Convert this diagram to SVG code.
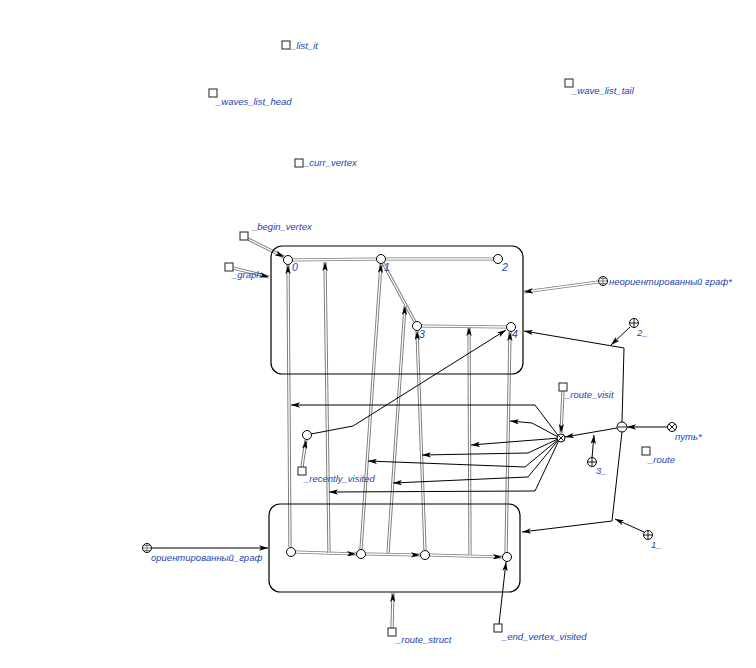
<svg xmlns="http://www.w3.org/2000/svg" width="756" height="668" viewBox="0 0 756 668">
<style>
.lb{font-family:"Liberation Sans",Arial,sans-serif;font-style:italic;font-size:9.5px;fill:#1a45b0}
.vl{font-family:"Liberation Sans",Arial,sans-serif;font-style:italic;font-size:10.5px;fill:#1a45b0}
.sq{fill:#fff;stroke:#333;stroke-width:1.1}
.v{fill:#fff;stroke:#000;stroke-width:1}
.box{fill:none;stroke:#000;stroke-width:1.2}
.o{fill:none;stroke:#7a7a7a;stroke-width:3.2}
.i{fill:none;stroke:#fff;stroke-width:1.3}
.ia{fill:none;stroke:#fff;stroke-width:1.3;marker-end:url(#ah)}
.b{fill:none;stroke:#000;stroke-width:1;marker-end:url(#ah)}
.ln{stroke:#000;stroke-width:0.9;fill:none}
.gl{stroke:#333;stroke-width:0.6;fill:none}
</style>
<defs>
<marker id="ah" viewBox="0 0 10 6" refX="10" refY="3" markerWidth="9" markerHeight="5.4" markerUnits="userSpaceOnUse" orient="auto">
<path d="M0,0 L10,3 L0,6 L2.5,3 z" fill="#000"/>
</marker>
</defs>
<rect width="756" height="668" fill="#fff"/>

<g id="connectors">
<path class="o" d="M292,260 L377,259"/><path class="i" d="M292,260 L377,259"/>
<path class="o" d="M386,259 L494,259"/><path class="i" d="M386,259 L494,259"/>
<path class="o" d="M383,263 L415,322"/><path class="i" d="M383,263 L415,322"/>
<path class="o" d="M421,326 L506,327"/><path class="i" d="M421,326 L506,327"/>
<path class="o" d="M295,552 L356,554"/><path class="ia" d="M295,552 L356,554"/>
<path class="o" d="M366,554 L420,555"/><path class="ia" d="M366,554 L420,555"/>
<path class="o" d="M430,555 L502,557"/><path class="ia" d="M430,555 L502,557"/>
<path class="o" d="M290,547 L288,265"/><path class="ia" d="M290,547 L288,265"/>
<path class="o" d="M329,553 L325,262"/><path class="ia" d="M329,553 L325,262"/>
<path class="o" d="M361,549 L381,264"/><path class="ia" d="M361,549 L381,264"/>
<path class="o" d="M388,553 L405,306"/><path class="ia" d="M388,553 L405,306"/>
<path class="o" d="M425,550 L417,331"/><path class="ia" d="M425,550 L417,331"/>
<path class="o" d="M470,555 L469,327"/><path class="ia" d="M470,555 L469,327"/>
<path class="o" d="M506,553 L510,332"/><path class="ia" d="M506,553 L510,332"/>
<path class="b" d="M560,438 L535,405 L291,405"/>
<path class="b" d="M560,438 L532,423 L510,421"/>
<path class="b" d="M560,438 L471,445"/>
<path class="b" d="M560,438 L528,453 L422,455"/>
<path class="b" d="M560,438 L525,467 L368,461"/>
<path class="b" d="M560,438 L528,477 L393,483"/>
<path class="b" d="M560,438 L535,491 L329,492"/>
<path class="o" d="M302,467 L306,440"/><path class="ia" d="M302,467 L306,440"/>
<path class="b" d="M311,434 L353,426 L506,330"/>
<path class="o" d="M563,391 L561,433"/><path class="ia" d="M563,391 L561,433"/>
<path class="b" d="M617,428 L565,437"/>
<path class="b" d="M592,458 L594,435"/>
<path class="b" d="M667,427 L627,427"/>
<path class="b" d="M622,422 L624,348 L524,331"/>
<path class="b" d="M622,432 L612,521 L522,532"/>
<path class="b" d="M630,327 L611,345"/>
<path class="b" d="M644,532 L615,519"/>
<path class="o" d="M248,239 L284,257"/><path class="ia" d="M248,239 L284,257"/>
<path class="o" d="M233,268 L269,277"/><path class="ia" d="M233,268 L269,277"/>
<path class="o" d="M598,282 L524,292"/><path class="ia" d="M598,282 L524,292"/>
<path class="b" d="M152,548 L268,548"/>
<path class="o" d="M392,628 L393,593"/><path class="ia" d="M392,628 L393,593"/>
<path class="b" d="M499,624 L506,562"/>
</g>

<g id="upper_graph"><rect class="box" x="271" y="246" width="252" height="128" rx="11"/></g>
<g id="lower_graph"><rect class="box" x="269" y="504" width="251" height="88" rx="11"/></g>

<g id="v0"><circle class="v" cx="288" cy="260" r="4.5"/><text class="vl" x="292" y="271">0</text></g>
<g id="v1"><circle class="v" cx="381" cy="259" r="4.5"/><text class="vl" x="384" y="271">1</text></g>
<g id="v2"><circle class="v" cx="498" cy="259" r="4.5"/><text class="vl" x="502" y="271">2</text></g>
<g id="v3"><circle class="v" cx="417" cy="326" r="4.5"/><text class="vl" x="419" y="338">3</text></g>
<g id="v4"><circle class="v" cx="511" cy="327" r="4.5"/><text class="vl" x="512" y="338">4</text></g>

<g id="ra"><circle class="v" cx="291" cy="552" r="4.5"/></g>
<g id="rb"><circle class="v" cx="361" cy="554" r="4.5"/></g>
<g id="rc"><circle class="v" cx="425" cy="555" r="4.5"/></g>
<g id="rd"><circle class="v" cx="507" cy="557" r="4.5"/></g>

<g id="list_it"><rect class="sq" x="282" y="41" width="8" height="8"/><text class="lb" x="291" y="49">_list_it</text></g>
<g id="waves_list_head"><rect class="sq" x="209" y="89" width="8" height="8"/><text class="lb" x="216" y="105">_waves_list_head</text></g>
<g id="wave_list_tail"><rect class="sq" x="565" y="79" width="8" height="8"/><text class="lb" x="572" y="94">_wave_list_tail</text></g>
<g id="curr_vertex"><rect class="sq" x="295" y="159" width="8" height="8"/><text class="lb" x="304" y="166">_curr_vertex</text></g>
<g id="begin_vertex"><rect class="sq" x="240" y="232" width="8" height="8"/><text class="lb" x="252" y="230">_begin_vertex</text></g>
<g id="graph"><rect class="sq" x="225" y="263" width="8" height="8"/><text class="lb" x="232" y="278">_graph</text></g>

<g id="undirected_graph">
<circle class="v" cx="603" cy="281" r="4.5"/>
<path class="gl" d="M603,276.5 V285.5 M598.5,281 H607.5 M599.5,278.5 H606.5 M599.5,283.5 H606.5"/>
<text class="lb" x="609" y="285">неориентированный граф*</text>
</g>
<g id="directed_graph">
<circle class="v" cx="147" cy="548" r="4.5"/>
<path class="gl" d="M147,543.5 V552.5 M142.5,548 H151.5 M143.5,545.5 H150.5 M143.5,550.5 H150.5"/>
<text class="lb" x="151" y="561">ориентированный_граф</text>
</g>

<g id="recently_visited">
<circle class="v" cx="307" cy="435" r="4.5"/>
<rect class="sq" x="298" y="467" width="8" height="8"/>
<text class="lb" x="304" y="482">_recently_visited</text>
</g>

<g id="route_visit"><rect class="sq" x="559" y="383" width="8" height="8"/><text class="lb" x="565" y="398">_route_visit</text></g>
<g id="route_node">
<circle class="v" cx="561" cy="438" r="4"/>
<path class="ln" d="M558.5,435.5 L563.5,440.5 M563.5,435.5 L558.5,440.5"/>
</g>
<g id="minus_node">
<circle class="v" cx="622" cy="427" r="5"/>
<path class="ln" d="M618,427 H626"/>
</g>
<g id="path_rel">
<circle class="v" cx="672" cy="427" r="4.5"/>
<path class="ln" d="M669,424 L675,430 M675,424 L669,430"/>
<text class="lb" x="675" y="440">путь*</text>
</g>
<g id="route"><rect class="sq" x="642" y="447" width="8" height="8"/><text class="lb" x="648" y="463">_route</text></g>

<g id="attr1">
<circle class="v" cx="648" cy="535" r="4.5"/>
<path class="ln" d="M648,531 V539 M644,535 H652"/>
<text class="lb" x="651" y="548">1_</text>
</g>
<g id="attr2">
<circle class="v" cx="634" cy="323" r="4.5"/>
<path class="ln" d="M634,319 V327 M630,323 H638"/>
<text class="lb" x="637" y="336">2_</text>
</g>
<g id="attr3">
<circle class="v" cx="592" cy="462" r="4.5"/>
<path class="ln" d="M592,458 V466 M588,462 H596"/>
<text class="lb" x="596" y="474">3_</text>
</g>

<g id="route_struct"><rect class="sq" x="388" y="628" width="8" height="8"/><text class="lb" x="396" y="643">_route_struct</text></g>
<g id="end_vertex_visited"><rect class="sq" x="494" y="624" width="8" height="8"/><text class="lb" x="502" y="640">_end_vertex_visited</text></g>
</svg>
